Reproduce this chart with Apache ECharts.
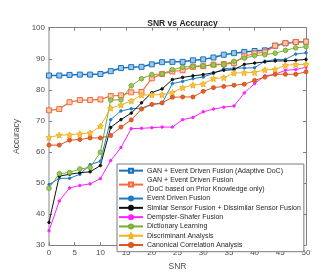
<!DOCTYPE html>
<html><head><meta charset="utf-8">
<script src="https://cdn.jsdelivr.net/npm/echarts@6/dist/echarts.min.js"></script>
<style>html,body{margin:0;padding:0;background:#fff}#c{width:332px;height:276px}</style>
</head><body><div id="c"></div>
<script>
var snr = [0,2,4,6,8,10,12,14,16,18,20,22,24,26,28,30,32,34,36,38,40,42,44,46,48,50];
var ganAdaptive = [84.6,84.6,84.8,84.9,84.9,85.1,86.0,87.0,87.3,87.4,88.2,88.9,89.0,89.0,89.5,89.8,90.4,91.3,91.8,92.2,92.5,92.7,94.2,95.0,95.4,95.5];
var ganPrior = [73.4,73.8,76.0,76.7,76.7,76.9,78.0,78.2,79.2,79.3,83.7,85.1,85.9,86.3,87.4,87.6,88.1,88.3,88.6,90.8,91.7,92.1,94.2,95.0,95.4,95.5];
var eventDriven = [49.5,51.5,51.5,52.8,55.9,57.0,70.4,73.2,73.9,74.1,75.3,75.6,82.0,82.7,83.6,84.1,85.3,86.8,87.0,87.0,87.1,89.2,89.7,89.8,91.5,91.9];
var similarSensor = [37.3,52.2,52.8,53.3,53.6,55.6,67.9,70.4,72.5,75.8,79.1,80.3,83.3,84.0,84.5,84.9,85.5,86.3,86.5,88.2,88.6,89.0,89.3,89.3,89.5,89.8];
var dempster = [34.6,44.2,48.4,49.2,49.7,51.4,57.2,61.4,67.5,67.6,67.8,68.0,68.0,70.4,71.1,72.9,73.8,74.4,74.8,79.0,82.0,84.5,85.0,86.3,86.5,87.3];
var dictionary = [48.3,53.0,53.4,54.5,55.0,59.9,76.7,76.8,81.3,83.6,84.9,85.1,86.5,87.3,87.6,87.7,88.0,88.2,89.2,90.2,91.0,91.3,91.8,92.7,93.5,93.9];
var discriminant = [64.7,65.4,65.5,65.8,66.1,68.3,74.1,75.1,76.4,78.3,78.4,78.4,79.1,80.7,81.5,81.9,83.6,83.9,85.4,85.5,85.6,86.4,86.6,87.9,88.1,88.2];
var canonical = [62.2,62.2,63.8,64.0,64.5,64.5,65.3,68.0,70.3,73.8,75.3,75.8,77.6,77.7,77.7,79.5,80.7,81.1,81.5,81.8,83.0,84.1,85.0,85.0,85.0,85.8];
var names = ['GAN + Event Driven Fusion (Adaptive DoC)','GAN + Event Driven Fusion\n(DoC based on Prior Knowledge only)','Event Driven Fusion','Similar Sensor Fusion + Dissimilar Sensor Fusion','Dempster-Shafer Fusion','Dictionary Learning','Discriminant Analysis','Canonical Correlation Analysis'];

function pair(arr){ return arr.map(function(v,i){ return [snr[i], v]; }); }
var star = 'path://M0,-10L2.5,-4.3L9.5,-3.1L4.3,1.6L5.9,8.1L0,4.7L-5.9,8.1L-4.3,1.6L-9.5,-3.1L-2.5,-4.3Z';
function mk(name, data, color, lw, sym, ss, fill, border){
  return {name:name, type:'line', data:pair(data), xAxisIndex:0, yAxisIndex:0,
    symbol:sym, symbolSize:ss, showSymbol:true, animation:false,
    lineStyle:{color:color, width:lw},
    itemStyle:{color:fill, borderColor:border||color, borderWidth:1},
    emphasis:{disabled:true}};
}
var series = [
  mk(names[0], ganAdaptive, '#1a72bb', 1.5, 'rect', 5, '#9cc6ea', '#1a72bb'),
  mk(names[1], ganPrior, '#f26b38', 1.2, 'rect', 5, '#fbc7b0', '#f26b38'),
  mk(names[2], eventDriven, '#1f7cc4', 1, 'circle', 2.5, '#1f7cc4'),
  mk(names[3], similarSensor, '#111111', 1, 'circle', 2.5, '#111111'),
  mk(names[4], dempster, '#ff22ff', 1, 'circle', 2.5, '#ff22ff'),
  mk(names[5], dictionary, '#77ac30', 1, 'circle', 4.5, '#9cc765', '#77ac30'),
  mk(names[6], discriminant, '#f0b323', 1, star, 6, '#f5c451', '#f0b323'),
  mk(names[7], canonical, '#d9531e', 1, 'circle', 4, '#e0622c', '#d9531e')
];
var axisCol = '#7f7f7f';
var lab = {color:'#4d4d4d', fontSize:8, fontFamily:'Arial, Liberation Sans'};
var chart = echarts.init(document.getElementById('c'), null, {renderer:'canvas'});
chart.setOption({
  backgroundColor:'#fff',
  animation:false,
  title:{text:'SNR vs Accuracy', left:177.5, textAlign:'center', top:14,
    textStyle:{fontSize:8.5, fontWeight:'bold', color:'#262626', fontFamily:'Arial, Liberation Sans'}},
  grid:{left:49, right:26, top:27.7, bottom:24.3, containLabel:false, show:false},
  xAxis:[
    {type:'value', min:0, max:50, interval:5, position:'bottom',
     name:'SNR', nameLocation:'middle', nameGap:15, nameTextStyle:{color:'#4d4d4d', fontSize:8.5, fontFamily:'Arial, Liberation Sans'},
     axisLine:{show:true, onZero:false, lineStyle:{color:axisCol, width:1}},
     axisTick:{show:true, inside:true, length:3, lineStyle:{color:axisCol}},
     axisLabel:Object.assign({margin:4}, lab), splitLine:{show:false}},
    {type:'value', min:0, max:50, interval:5, position:'top',
     axisLine:{show:true, onZero:false, lineStyle:{color:axisCol, width:1}},
     axisTick:{show:true, inside:true, length:3, lineStyle:{color:axisCol}},
     axisLabel:{show:false}, splitLine:{show:false}}
  ],
  yAxis:[
    {type:'value', min:30, max:100, interval:10, position:'left',
     name:'Accuracy', nameLocation:'middle', nameGap:20, nameRotate:90, nameTextStyle:{color:'#4d4d4d', fontSize:8.5, fontFamily:'Arial, Liberation Sans'},
     axisLine:{show:true, onZero:false, lineStyle:{color:'#c4c4c4', width:2}},
     axisTick:{show:true, inside:true, length:3, lineStyle:{color:axisCol}},
     axisLabel:Object.assign({margin:4}, lab), splitLine:{show:false}},
    {type:'value', min:30, max:100, interval:10, position:'right',
     axisLine:{show:true, onZero:false, lineStyle:{color:axisCol, width:1}},
     axisTick:{show:true, inside:true, length:3, lineStyle:{color:axisCol}},
     axisLabel:{show:false}, splitLine:{show:false}}
  ],
  legend:{orient:'vertical', left:117, top:164, itemWidth:24, itemHeight:5, itemGap:0,
    padding:[2,3,2,1], borderColor:'#7a7a7a', borderWidth:1, backgroundColor:'#fff',
    selectedMode:false, data:names,
    textStyle:{fontSize:7, lineHeight:9.3, color:'#262626', fontFamily:'Arial, Liberation Sans', padding:[0,0,0,-1]}},
  series:series
});
</script></body></html>
